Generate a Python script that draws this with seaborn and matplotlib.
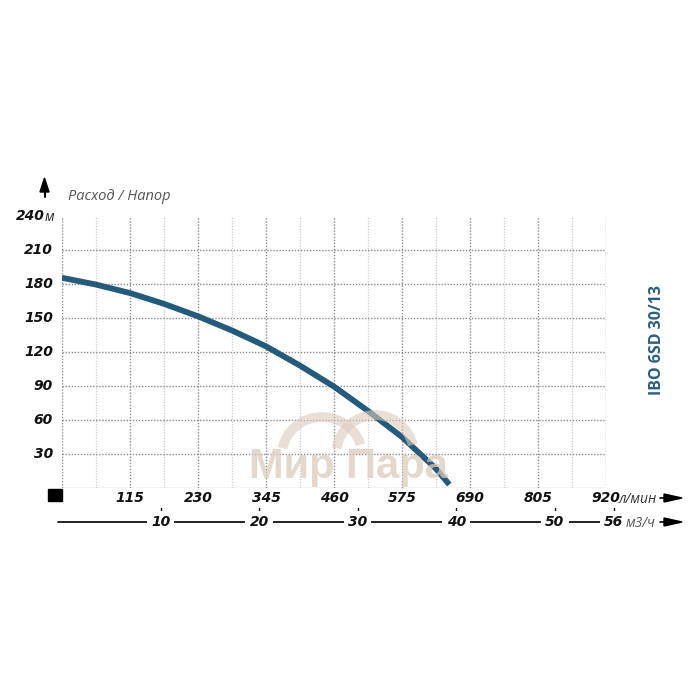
import numpy as np
import pandas as pd
import matplotlib
matplotlib.use("Agg")
import matplotlib.pyplot as plt
import matplotlib.transforms as mtransforms
from matplotlib.patches import Rectangle, Arc
import seaborn as sns

# ---- data ----
flow_lpm = [0, 57.5, 115, 172.5, 230, 287.5, 345, 402.5, 460, 517.5, 575, 632.5, 655]
head_m = [185.5, 179.5, 172, 162.5, 151.5, 139, 125, 108, 89.5, 68, 45, 17, 3]
y_ticks = [30, 60, 90, 120, 150, 180, 210, 240]
x_ticks_lpm = [115, 230, 345, 460, 575, 690, 805, 920]
x_ticks_m3h = [10, 20, 30, 40, 50, 56]
title = "IBO 6SD 30/13"
axis_title = "Расход / Напор"
watermark = "Мир Пара"

sns.set_theme(style="white")
plt.rcParams['font.family'] = ['Open Sans', 'DejaVu Sans']

W = H = 700
fig = plt.figure(figsize=(7, 7), dpi=100)
L, R, T, B = 62, 606, 216, 488
ax = fig.add_axes([L / W, 1 - B / H, (R - L) / W, (B - T) / H])
ax.set_xlim(0, 920)
ax.set_ylim(0, 240)
for s in ax.spines.values():
    s.set_visible(False)
ax.set_xticks([])
ax.set_yticks([])
ax.set_facecolor('none')

def px(x, y):
    return x / W, 1 - y / H

dot = (0, (1, 1.2))
# grid
for v in np.arange(57.5, 920, 115):
    ax.axvline(v, color='#cccccc', lw=0.9, ls=dot, zorder=1)
for v in [0] + x_ticks_lpm:
    ax.axvline(v, color='#8a8a8a', lw=1.0, ls=dot, zorder=1)
for v in [0] + y_ticks[:-1]:
    ax.axhline(v, color='#8a8a8a', lw=1.0, ls=dot, zorder=1)

# watermark
wm_color = '#dccbbd'
fig.text(*px(348, 467), watermark, ha='center', va='center', fontsize=30,
         fontweight='bold', color=wm_color, alpha=0.75, family=['Liberation Sans', 'DejaVu Sans'], zorder=2)
for cx, cy, w_, h_ in [(322, 455, 80, 76), (375, 455, 78, 80)]:
    arc = Arc(px(cx, cy), w_ / W, h_ / H, theta1=15, theta2=170, transform=fig.transFigure,
              color=wm_color, lw=7, alpha=0.6, zorder=2)
    fig.add_artist(arc)

# curve
df = pd.DataFrame({'flow': flow_lpm, 'head': head_m})
sns.lineplot(data=df, x='flow', y='head', ax=ax, color='#245a7b', lw=4.2, zorder=5,
             solid_capstyle='butt', solid_joinstyle='round')
ax.set_xlabel('')
ax.set_ylabel('')

num_kw = dict(fontsize=10, fontweight='bold', fontstyle='italic', color='#111111',
              family=['DejaVu Sans'])

# y tick labels
ytr = mtransforms.blended_transform_factory(fig.transFigure, ax.transData)
for v in y_ticks[:-1]:
    ax.text(53 / W, v, str(v), transform=ytr, ha='right', va='center', **num_kw)
ax.text(45 / W, 240, "240", transform=ytr, ha='right', va='center', **num_kw)
ax.text(45 / W, 239, "м", transform=ytr, ha='left', va='center', fontsize=10,
        fontstyle='italic', color='#222222')

fig.text(*px(68, 196), axis_title, ha='left', va='center', fontsize=10.5,
         fontstyle='italic', color='#555555')

# x tick labels row 1
xtr = mtransforms.blended_transform_factory(ax.transData, fig.transFigure)
y1 = 1 - 498 / H
for v in x_ticks_lpm:
    ax.text(v, y1, str(v), transform=xtr, ha='center', va='center', **num_kw)
ax.text(920 + 22, y1 - 0.002, "л/мин", transform=xtr, ha='left', va='center', fontsize=10,
        fontstyle='italic', color='#333333')

# row 2 (m3/h)
y2 = 1 - 522 / H
ax.plot([-4 * 920 / 544, 1000 * 56 / 60 - 20], [y2, y2], transform=xtr, color='#111111', lw=1.3,
        zorder=3, clip_on=False)
for v in x_ticks_m3h:
    xl = v * 1000 / 60
    ax.text(xl, y2, str(v), transform=xtr, ha='center', va='center', zorder=4,
            bbox=dict(boxstyle='square,pad=0.3', fc='white', ec='none'), **num_kw)
    ax.plot([xl, xl], [1 - 508 / H, 1 - 513 / H], transform=xtr, color='#111111', lw=1.0, clip_on=False)
ax.text(1000 * 56 / 60 + 20, y2 - 0.002, "м3/ч", transform=xtr, ha='left', va='center', fontsize=10,
        fontstyle='italic', color='#555555', zorder=5)

# arrows
for yy in (498, 522):
    fig.add_artist(plt.Line2D([660 / W, 666 / W], [1 - yy / H] * 2, transform=fig.transFigure, color='black', lw=1.2))
    fig.patches.append(plt.Polygon([px(664, yy - 4), px(682, yy), px(664, yy + 4)], closed=True,
                                   transform=fig.transFigure, color='black'))
fig.patches.append(plt.Polygon([px(40, 192), px(44.5, 178), px(49, 192)], closed=True,
                               transform=fig.transFigure, color='black'))
fig.add_artist(plt.Line2D([44.5 / W, 44.5 / W], [1 - 197 / H, 1 - 190 / H], transform=fig.transFigure, color='black', lw=1.5))

# black square
fig.patches.append(Rectangle(px(48, 501), 14 / W, 12 / H, transform=fig.transFigure, color='black'))

# title
fig.text(*px(657, 340), title, rotation=90, ha='center', va='center', fontsize=11.5,
         fontweight='bold', color='#2b5f82')

fig.savefig('out.png', dpi=100)
